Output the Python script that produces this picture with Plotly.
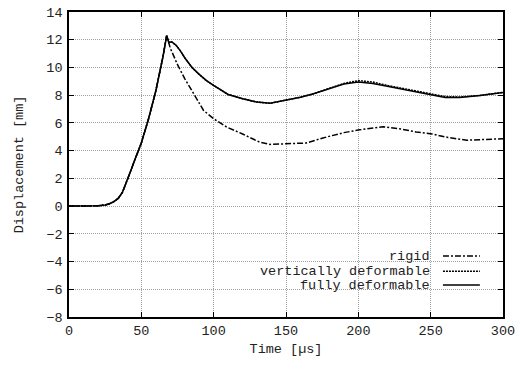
import plotly.graph_objects as go

# Shared rise (all three curves coincide up to the peak)
rise_t = [0, 5, 10, 15, 20, 25, 28, 31, 34, 37, 40, 42.5, 45, 50, 55, 60, 65, 67.5]
rise_d = [0, 0, 0, 0, 0.02, 0.08, 0.17, 0.32, 0.55, 1.0, 1.75, 2.5, 3.2, 4.55, 6.3, 8.3, 10.8, 12.3]

rigid_t = [70, 75, 80, 86, 93, 100, 109, 120, 132, 139, 150, 164, 175, 190, 201, 217, 230, 240, 251, 262, 275, 285, 300]
rigid_d = [11.4, 10.2, 9.2, 8.1, 6.9, 6.3, 5.7, 5.2, 4.6, 4.45, 4.48, 4.55, 4.9, 5.3, 5.5, 5.72, 5.55, 5.35, 5.2, 4.95, 4.75, 4.8, 4.86]

vert_t = [69, 71, 74, 77, 80, 85, 90, 95, 100, 105, 110, 120, 130, 139, 150, 160, 169, 180, 190, 200, 210, 220, 230, 240, 250, 260, 270, 284, 300]
vert_d = [11.8, 11.85, 11.6, 11.2, 10.7, 10.0, 9.5, 9.05, 8.7, 8.35, 8.05, 7.75, 7.5, 7.42, 7.62, 7.85, 8.1, 8.47, 8.85, 9.05, 8.95, 8.7, 8.5, 8.3, 8.1, 7.9, 7.87, 7.98, 8.2]

full_t = [69, 71, 74, 77, 80, 85, 90, 95, 100, 105, 110, 120, 130, 139, 150, 160, 169, 180, 190, 200, 210, 220, 230, 240, 250, 260, 270, 284, 300]
full_d = [11.8, 11.85, 11.6, 11.2, 10.7, 10.0, 9.5, 9.05, 8.7, 8.35, 8.05, 7.75, 7.5, 7.42, 7.62, 7.85, 8.1, 8.45, 8.8, 8.95, 8.85, 8.65, 8.45, 8.22, 8.02, 7.83, 7.84, 7.97, 8.2]

series = [
    ("rigid", rigid_t, rigid_d, "6px,2px,2px,2px"),
    ("vertically deformable", vert_t, vert_d, "2px,1px"),
    ("fully deformable", full_t, full_d, "solid"),
]

x_ticks = [0, 50, 100, 150, 200, 250, 300]
y_ticks = [-8, -6, -4, -2, 0, 2, 4, 6, 8, 10, 12, 14]

FONT = "Liberation Mono"
FS = 13.5
fig = go.Figure()
for name, t, d, dash in series:
    fig.add_trace(go.Scatter(
        x=rise_t + t, y=rise_d + d, mode="lines", name=name,
        line=dict(color="black", width=1.5, dash=dash), showlegend=False))

# gnuplot-style key: right-aligned text with line sample on the right
legend_y = [-3.6, -4.7, -5.7]
for (name, t, d, dash), ly in zip(series, legend_y):
    fig.add_annotation(x=251, y=ly, xref="x", yref="y", text=name, showarrow=False,
                       xanchor="right", yanchor="middle",
                       font=dict(family=FONT, size=FS, color="#222"))
    fig.add_shape(type="line", xref="x", yref="y", x0=258.5, x1=284, y0=ly, y1=ly,
                  line=dict(color="black", width=1.5, dash=dash))

axis_common = dict(showline=True, linecolor="black", linewidth=1.5, mirror="ticks",
                   ticks="inside", ticklen=5, tickcolor="black",
                   showgrid=True, gridcolor="#a0a0a0", griddash="1px,1px", gridwidth=1,
                   zeroline=False, tickfont=dict(family=FONT, size=FS, color="#222"))

fig.update_xaxes(range=[0, 300], tickvals=x_ticks,
                 title=dict(text="Time [µs]", font=dict(family=FONT, size=FS, color="#222"), standoff=6),
                 **axis_common)
fig.update_yaxes(range=[-8, 14], tickvals=y_ticks, ticklabelstandoff=2,
                 title=dict(text="Displacement [mm]", font=dict(family=FONT, size=FS, color="#222"), standoff=20),
                 **axis_common)

fig.update_layout(width=522, height=365, margin=dict(l=69, r=19, t=12, b=48, autoexpand=False),
                  plot_bgcolor="white", paper_bgcolor="white")
fig.write_html("out.html", config={"displayModeBar": False},
               post_script="document.body.style.margin='0';document.body.style.overflow='hidden';")
